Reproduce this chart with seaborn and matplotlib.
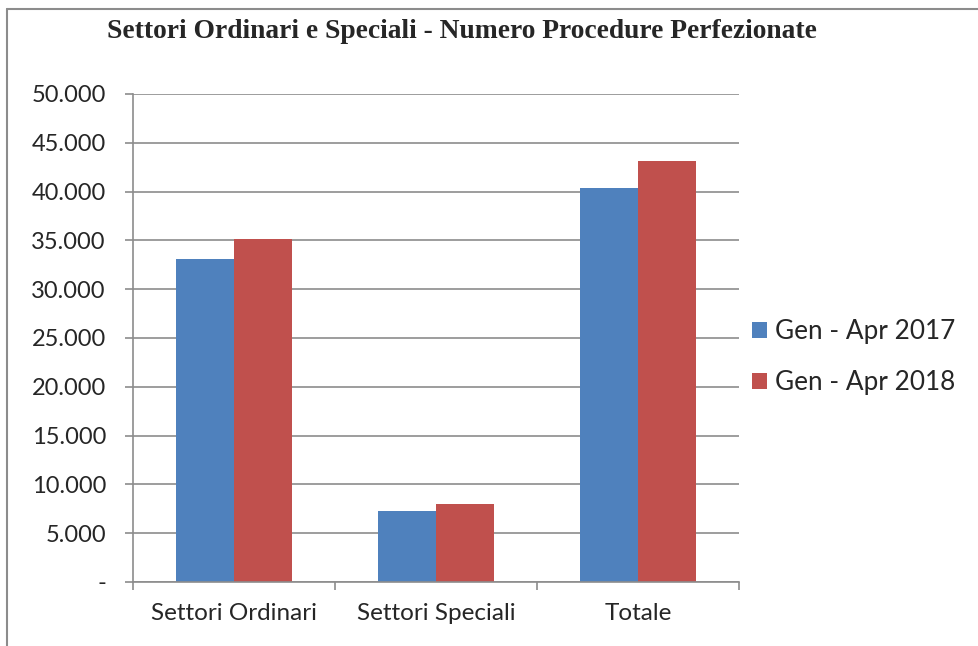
import matplotlib
matplotlib.use("Agg")
import matplotlib.pyplot as plt
import seaborn as sns
import pandas as pd
from matplotlib.ticker import FixedLocator, FuncFormatter
from matplotlib.lines import Line2D

categories = ["Settori Ordinari", "Settori Speciali", "Totale"]
series_names = ["Gen - Apr 2017", "Gen - Apr 2018"]
values_2017 = [33100, 7250, 40350]
values_2018 = [35150, 7950, 43100]
colors = ["#4F81BD", "#C0504D"]

df = pd.DataFrame({
    "cat": categories * 2,
    "series": [series_names[0]] * 3 + [series_names[1]] * 3,
    "val": values_2017 + values_2018,
})

sns.set_theme(style="white")
plt.rcParams['font.family'] = ['Lato', 'DejaVu Sans']

fig = plt.figure(figsize=(9.79, 6.46), dpi=100)
ax = fig.add_axes([133/979, 1 - 582/646, (739-133)/979, (582-94)/646])

sns.barplot(data=df, x="cat", y="val", hue="series", palette=colors,
            width=0.57, ax=ax, saturation=1, legend=True, errorbar=None)

ax.set_xlim(-0.5, 2.5)
ax.set_ylim(0, 50000)
ax.set_yticks(range(0, 50001, 5000))
ax.yaxis.set_major_formatter(FuncFormatter(lambda v, p: "-" if v == 0 else f"{int(v):,}".replace(",", ".")))
ax.grid(axis="y", color="#8C8C8C", linewidth=1.2)
ax.set_axisbelow(True)
for s in ["top", "right"]:
    ax.spines[s].set_visible(False)
ax.spines["left"].set_color("#8C8C8C")
ax.spines["bottom"].set_color("#8C8C8C")
ax.spines["left"].set_linewidth(1.2)
ax.spines["bottom"].set_linewidth(1.2)
ax.tick_params(axis="y", which="major", length=5.5, width=1.2, color="#8C8C8C", labelsize=17, pad=14, left=True)
ax.tick_params(axis="x", which="major", length=0, labelsize=17.5, pad=15)
ax.xaxis.set_minor_locator(FixedLocator([-0.5, 0.5, 1.5, 2.5]))
ax.tick_params(axis="x", which="minor", length=6, color="#8C8C8C", width=1.2, bottom=True)
ax.set_xlabel("")
ax.set_ylabel("")

for p in ax.patches:
    p.set_edgecolor("none")

handles, labels = ax.get_legend_handles_labels()
ax.legend(handles, labels, loc="center left", bbox_to_anchor=(729/979, 1 - 357/646),
          bbox_transform=fig.transFigure, frameon=False, fontsize=18.8,
          handlelength=0.55, handleheight=0.55, handletextpad=0.3, labelspacing=1.0)

fig.text(462/979, 1 - 31/646, "Settori Ordinari e Speciali - Numero Procedure Perfezionate",
         ha="center", va="center", fontsize=19.8, fontweight="bold",
         family=["Liberation Serif", "DejaVu Serif"])

fig.lines.append(Line2D([7/979, 7/979], [0, 1 - 9/646], transform=fig.transFigure,
                        color="#8C8C8C", linewidth=1.5))
fig.lines.append(Line2D([7/979, 1], [1 - 9/646, 1 - 9/646], transform=fig.transFigure,
                        color="#8C8C8C", linewidth=1.5))

fig.savefig("out.png", dpi=100)
